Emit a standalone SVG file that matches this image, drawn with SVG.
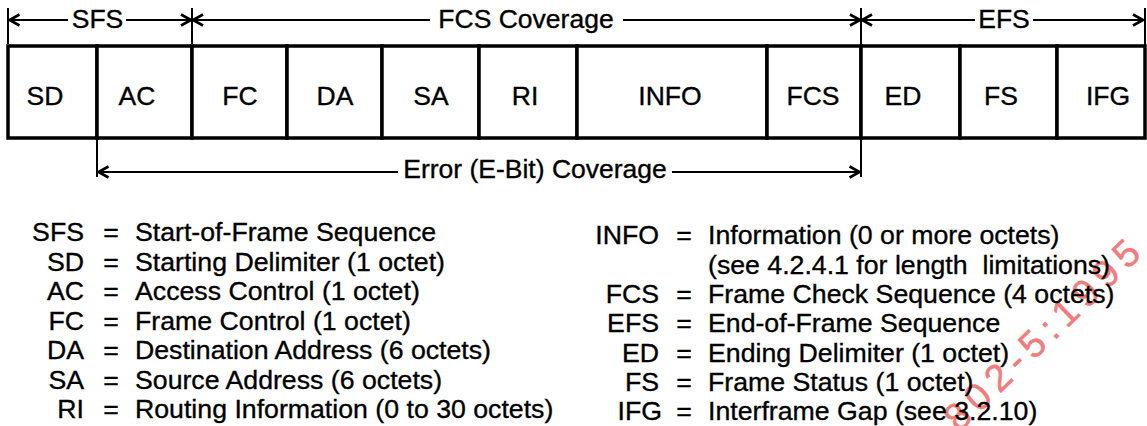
<svg xmlns="http://www.w3.org/2000/svg" width="1147" height="426" viewBox="0 0 1147 426">
<style>
text{font-family:"Liberation Sans",Arial,sans-serif;fill:#000;stroke:#000;stroke-width:0.35}
.lbl{font-size:26.5px;text-anchor:middle}
.box{fill:#fff;stroke:#000;stroke-width:3.5}
.ln{stroke:#000;stroke-width:2;fill:none}
.tk{stroke:#000;stroke-width:2;fill:none}
.lg{font-size:26.7px}
.k{text-anchor:end}
.eq{text-anchor:middle}
text.wm{font-size:38px;fill:#f06464;stroke:#f06464;stroke-width:0.5;opacity:0.85;letter-spacing:7px}
</style>
<defs>
<marker id="arr" viewBox="0 0 12 14" refX="11" refY="7" markerWidth="12" markerHeight="14" markerUnits="userSpaceOnUse" orient="auto">
<path d="M1,1.5 L11,7 L1,12.5" fill="none" stroke="#000" stroke-width="2.6"/>
</marker>
</defs>
<rect width="1147" height="426" fill="#fff"/>
<text class="wm" transform="translate(959,433) rotate(-44)">802-5:1995</text>
<g id="fields">
<g id="f-sd"><rect class="box" x="8" y="46" width="89" height="92"/><text class="lbl" x="45" y="105">SD</text></g>
<g id="f-ac"><rect class="box" x="97" y="46" width="95" height="92"/><text class="lbl" x="137" y="105">AC</text></g>
<g id="f-fc"><rect class="box" x="192" y="46" width="95" height="92"/><text class="lbl" x="240" y="105">FC</text></g>
<g id="f-da"><rect class="box" x="287" y="46" width="95" height="92"/><text class="lbl" x="335" y="105">DA</text></g>
<g id="f-sa"><rect class="box" x="382" y="46" width="97" height="92"/><text class="lbl" x="431" y="105">SA</text></g>
<g id="f-ri"><rect class="box" x="479" y="46" width="98" height="92"/><text class="lbl" x="525" y="105">RI</text></g>
<g id="f-info"><rect class="box" x="577" y="46" width="190" height="92"/><text class="lbl" x="670" y="105">INFO</text></g>
<g id="f-fcs"><rect class="box" x="767" y="46" width="94" height="92"/><text class="lbl" x="813" y="105">FCS</text></g>
<g id="f-ed"><rect class="box" x="861" y="46" width="99" height="92"/><text class="lbl" x="903" y="105">ED</text></g>
<g id="f-fs"><rect class="box" x="960" y="46" width="97" height="92"/><text class="lbl" x="1001" y="105">FS</text></g>
<g id="f-ifg"><rect class="box" x="1057" y="46" width="88" height="92"/><text class="lbl" x="1108" y="105">IFG</text></g>
</g>
<g id="connectors">
<line class="tk" x1="8" y1="8" x2="8" y2="44"/>
<line class="tk" x1="192" y1="8" x2="192" y2="46"/>
<line class="tk" x1="861" y1="8" x2="861" y2="46"/>
<line class="tk" x1="1145" y1="8" x2="1145" y2="46"/>
<line class="ln" x1="68" y1="20" x2="9.5" y2="20" marker-end="url(#arr)"/>
<line class="ln" x1="126" y1="20" x2="191" y2="20" marker-end="url(#arr)"/>
<line class="ln" x1="430" y1="20" x2="193" y2="20" marker-end="url(#arr)"/>
<line class="ln" x1="623" y1="20" x2="860" y2="20" marker-end="url(#arr)"/>
<line class="ln" x1="975" y1="20" x2="862" y2="20" marker-end="url(#arr)"/>
<line class="ln" x1="1033" y1="20" x2="1143" y2="20" marker-end="url(#arr)"/>
<text class="lbl" x="97.5" y="28">SFS</text>
<text class="lbl" x="526" y="28">FCS Coverage</text>
<text class="lbl" x="1004" y="28">EFS</text>
<line class="tk" x1="97" y1="138" x2="97" y2="177"/>
<line class="tk" x1="861" y1="138" x2="861" y2="177"/>
<line class="ln" x1="398" y1="172" x2="98.5" y2="172" marker-end="url(#arr)"/>
<line class="ln" x1="672" y1="172" x2="859.5" y2="172" marker-end="url(#arr)"/>
<text class="lbl" x="535" y="178">Error (E-Bit) Coverage</text>
</g>
<g id="legend" class="lg">
<text class="k" x="84" y="241">SFS</text><text class="eq" x="111" y="241">=</text><text x="135" y="241">Start-of-Frame Sequence</text>
<text class="k" x="84" y="270.5">SD</text><text class="eq" x="111" y="270.5">=</text><text x="135" y="270.5">Starting Delimiter (1 octet)</text>
<text class="k" x="84" y="300">AC</text><text class="eq" x="111" y="300">=</text><text x="135" y="300">Access Control (1 octet)</text>
<text class="k" x="84" y="329.5">FC</text><text class="eq" x="111" y="329.5">=</text><text x="135" y="329.5">Frame Control (1 octet)</text>
<text class="k" x="84" y="359">DA</text><text class="eq" x="111" y="359">=</text><text x="135" y="359">Destination Address (6 octets)</text>
<text class="k" x="84" y="388.5">SA</text><text class="eq" x="111" y="388.5">=</text><text x="135" y="388.5">Source Address (6 octets)</text>
<text class="k" x="84" y="418">RI</text><text class="eq" x="111" y="418">=</text><text x="135" y="418">Routing Information (0 to 30 octets)</text>
<text class="k" x="659" y="244">INFO</text><text class="eq" x="684" y="244">=</text><text x="708" y="244">Information (0 or more octets)</text>
<text x="708" y="273.5" xml:space="preserve">(see 4.2.4.1 for length  limitations)</text>
<text class="k" x="659" y="303">FCS</text><text class="eq" x="684" y="303">=</text><text x="708" y="303">Frame Check Sequence (4 octets)</text>
<text class="k" x="659" y="332">EFS</text><text class="eq" x="684" y="332">=</text><text x="708" y="332">End-of-Frame Sequence</text>
<text class="k" x="659" y="361.5">ED</text><text class="eq" x="684" y="361.5">=</text><text x="708" y="361.5">Ending Delimiter (1 octet)</text>
<text class="k" x="659" y="391">FS</text><text class="eq" x="684" y="391">=</text><text x="708" y="391">Frame Status (1 octet)</text>
<text class="k" x="662" y="420">IFG</text><text class="eq" x="684" y="420">=</text><text x="708" y="420">Interframe Gap (see 3.2.10)</text>
</g>
</svg>
